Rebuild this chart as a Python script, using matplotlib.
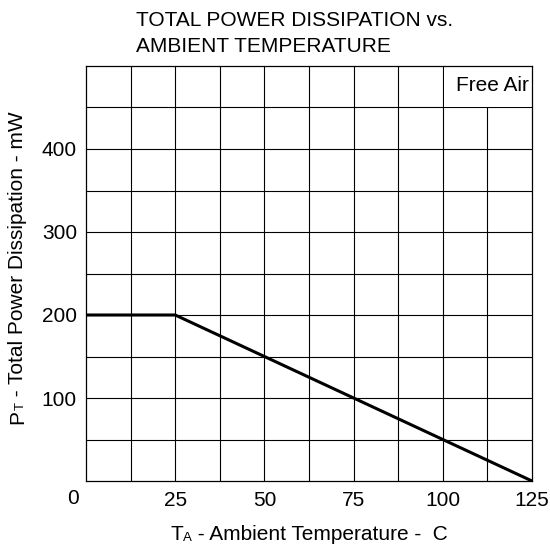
import matplotlib
matplotlib.use("Agg")
import matplotlib.pyplot as plt
import numpy as np

plt.rcParams['font.family'] = ['Liberation Sans', 'DejaVu Sans']

temps = [0, 25, 125]
power = [200, 200, 0]
xticks = [25, 50, 75, 100, 125]
yticks = [100, 200, 300, 400]

FS = 15
SUB = 9.5

W, H = 550, 546
L, R, T, B = 86, 532, 66, 481

fig = plt.figure(figsize=(5.5, 5.46), dpi=100)
ax = fig.add_axes([L/W, 1-B/H, (R-L)/W, (B-T)/H])
ax.set_xlim(0, 125)
ax.set_ylim(0, 500)

for xv in np.arange(12.5, 125, 12.5):
    ax.axvline(xv, color='black', lw=0.8, zorder=1)
for yv in np.arange(50, 500, 50):
    ax.axhline(yv, color='black', lw=0.8, zorder=1)

ax.plot(temps, power, color='black', lw=2.2, zorder=3, solid_capstyle='butt')

ax.text(124, 477, 'Free Air', ha='right', va='center', fontsize=FS, zorder=2)
# white cell behind the Free Air label
ax.add_patch(plt.Rectangle((100.4, 450.6), 24.4, 49.2, facecolor='white',
                           edgecolor='none', zorder=1.5))

for s in ax.spines.values():
    s.set_linewidth(0.9)

ax.set_xticks(xticks)
ax.set_yticks(yticks)
ax.tick_params(length=0, labelsize=FS)
ax.tick_params(axis='x', pad=7)
ax.tick_params(axis='y', pad=6.5)
ax.text(-3.6, -21, '0', ha='center', va='center', fontsize=FS)

# x label: T + small A + rest
xl1 = fig.text(0, 0, 'T', fontsize=FS, ha='left', va='baseline')
xl2 = ax.annotate('A', xy=(1, 0), xycoords=xl1, ha='left', va='bottom', fontsize=SUB)
xl3 = ax.annotate(' - Ambient Temperature -  C', xy=(1, 0), xycoords=xl2,
                  ha='left', va='bottom', fontsize=FS)
# y label: P + small T + rest (rotated)
yl1 = fig.text(0, 0, 'P', fontsize=FS, ha='right', va='bottom', rotation=90)
yl2 = ax.annotate('T', xy=(1, 1), xycoords=yl1, ha='right', va='bottom',
                  fontsize=SUB, rotation=90)
yl3 = ax.annotate(' - Total Power Dissipation - mW', xy=(1, 1), xycoords=yl2,
                  ha='right', va='bottom', fontsize=FS, rotation=90)

fig.canvas.draw()
r = fig.canvas.get_renderer()
def ext(items):
    bbs = [t.get_window_extent(r) for t in items]
    return (min(b.x0 for b in bbs), max(b.x1 for b in bbs),
            min(b.y0 for b in bbs), max(b.y1 for b in bbs))
x0, x1, _, _ = ext([xl1, xl2, xl3])
w = x1 - x0
xl1.set_position(((309 - w/2)/W, 1 - 540/H))
_, _, y0, y1 = ext([yl1, yl2, yl3])
h = y1 - y0
yl1.set_position((27/W, 1 - (268 + h/2)/H))

fig.text(136/W, 1-26.5/H, 'TOTAL POWER DISSIPATION vs.',
         ha='left', va='baseline', fontsize=FS)
fig.text(136/W, 1-51.5/H, 'AMBIENT TEMPERATURE',
         ha='left', va='baseline', fontsize=FS)

fig.savefig('out.png', dpi=100)
